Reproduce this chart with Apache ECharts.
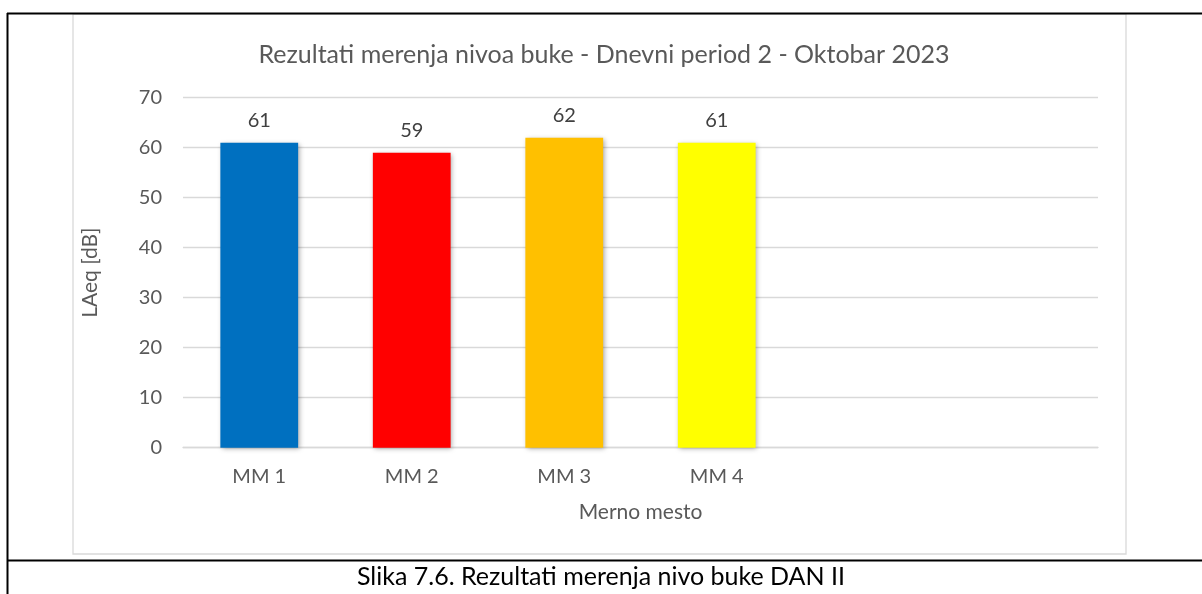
<!DOCTYPE html>
<html>
<head>
<meta charset="utf-8">
<script src="https://cdn.jsdelivr.net/npm/echarts@6/dist/echarts.min.js"></script>
<style>
  html, body { margin: 0; padding: 0; background: #fff; }
  #chart { width: 1202px; height: 594px; }
</style>
</head>
<body>
<div id="chart"></div>
<script>
// Measurement points (two trailing empty slots keep the category spacing)
const categories = ['MM 1', 'MM 2', 'MM 3', 'MM 4', '', ''];
const laeqValues = [61, 59, 62, 61];
const barColors = ['#0070C0', '#FF0000', '#FFC000', '#FFFF00'];
const yTicks = { min: 0, max: 70, interval: 10 };

const titleText = 'Rezultati merenja nivoa buke - Dnevni period 2 - Oktobar 2023';
const captionText = 'Slika 7.6. Rezultati merenja nivo buke DAN II';

const FONT = 'Lato, "Open Sans", sans-serif';

const barData = laeqValues.map((v, i) => ({
  value: v,
  itemStyle: { color: barColors[i] }
}));

const chart = echarts.init(document.getElementById('chart'), null, { renderer: 'canvas' });

chart.setOption({
  animation: false,
  backgroundColor: '#ffffff',
  title: {
    text: titleText,
    left: 599,
    textAlign: 'center',
    top: 37,
    textStyle: { fontFamily: FONT, fontSize: 25, fontWeight: 'normal', color: '#595959' }
  },
  grid: { left: 183, right: 104, top: 97.7, bottom: 146.3, containLabel: false },
  xAxis: {
    type: 'category',
    data: categories,
    name: 'Merno mesto',
    nameLocation: 'middle',
    nameGap: 54,
    nameTextStyle: { fontFamily: FONT, fontSize: 21, color: '#595959' },
    axisLine: { lineStyle: { color: '#d9d9d9', width: 1.3 } },
    axisTick: { show: false },
    axisLabel: { fontFamily: FONT, fontSize: 20, color: '#595959', margin: 19 },
    splitLine: { show: false }
  },
  yAxis: {
    type: 'value',
    min: yTicks.min,
    max: yTicks.max,
    interval: yTicks.interval,
    name: 'LAeq [dB]',
    nameLocation: 'middle',
    nameRotate: 90,
    nameGap: 82,
    nameTextStyle: { fontFamily: FONT, fontSize: 21, color: '#595959' },
    axisLine: { show: false },
    axisTick: { show: false },
    axisLabel: { fontFamily: FONT, fontSize: 20, color: '#595959', margin: 21 },
    splitLine: { lineStyle: { color: '#d9d9d9', width: 1.3 } }
  },
  series: [{
    type: 'bar',
    data: barData,
    barWidth: '51%',
    itemStyle: {
      shadowBlur: 5,
      shadowColor: 'rgba(0,0,0,0.35)',
      shadowOffsetX: 1.5,
      shadowOffsetY: 1.5
    },
    label: {
      show: true,
      position: 'top',
      distance: 12,
      fontFamily: FONT,
      fontSize: 20,
      color: '#404040'
    }
  }],
  graphic: [
    // chart frame
    { type: 'rect', silent: true, z: -1,
      shape: { x: 73, y: 14, width: 1053, height: 540 },
      style: { fill: '#ffffff', stroke: '#d9d9d9', lineWidth: 1.3 } },
    // table borders
    { type: 'line', silent: true, shape: { x1: 7, y1: 13.5, x2: 1202, y2: 13.5 },
      style: { stroke: '#000', lineWidth: 2 } },
    { type: 'line', silent: true, shape: { x1: 7.5, y1: 13, x2: 7.5, y2: 594 },
      style: { stroke: '#000', lineWidth: 2 } },
    { type: 'line', silent: true, shape: { x1: 7, y1: 560.5, x2: 1202, y2: 560.5 },
      style: { stroke: '#000', lineWidth: 2 } },
    // caption
    { type: 'text', silent: true, left: 'center', top: 564,
      style: { text: captionText, font: '25px ' + FONT, fill: '#000000' } }
  ]
});
</script>
</body>
</html>
